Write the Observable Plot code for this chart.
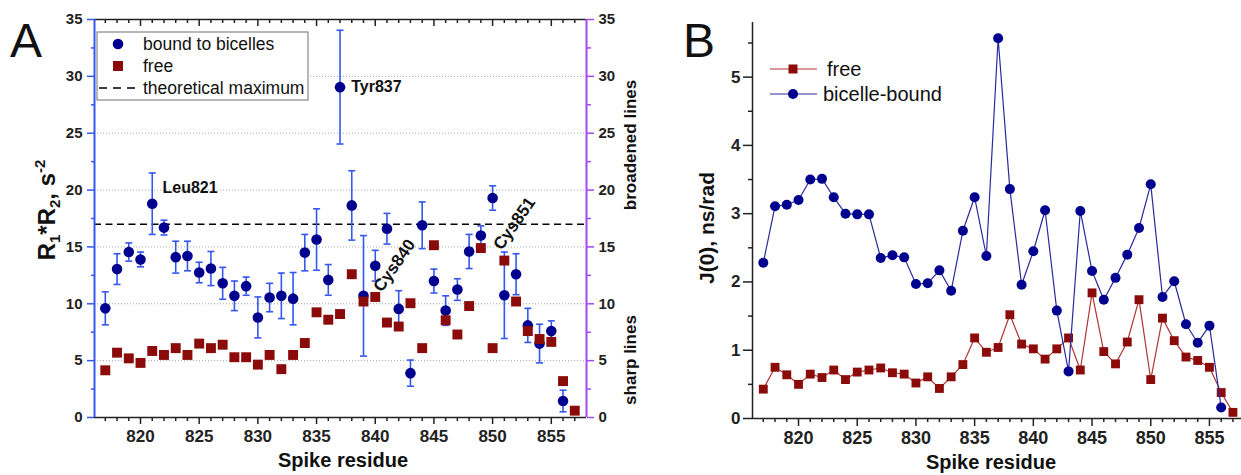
<!DOCTYPE html>
<html><head><meta charset="utf-8">
<script src="https://cdn.jsdelivr.net/npm/d3@7"></script>
<script src="https://cdn.jsdelivr.net/npm/@observablehq/plot@0.6"></script>
<style>
body{margin:0;background:#fff;font-family:"Liberation Sans",Arial,sans-serif;}
#wrap{position:relative;width:1241px;height:475px;overflow:hidden;background:#fff;}
#a{position:absolute;left:0;top:0;}
#b{position:absolute;left:660px;top:0;}
svg{overflow:visible;}
</style></head><body><div id="wrap"><div id="a"></div><div id="b"></div></div>
<script>
// ---------- data ----------
const residuesBound = [817,818,819,820,821,822,823,824,825,826,827,828,829,830,831,832,833,834,835,836,837,838,839,840,841,842,843,844,845,846,847,848,849,850,851,852,853,854,855,856];
const residuesFree  = [817,818,819,820,821,822,823,824,825,826,827,828,829,830,831,832,833,834,835,836,837,838,839,840,841,842,843,844,845,846,847,848,849,850,851,852,853,854,855,856,857];
const r1r2Bound = [9.6,13.05,14.55,13.9,18.8,16.7,14.1,14.2,12.75,13.1,11.8,10.7,11.55,8.8,10.55,10.7,10.45,14.5,15.65,12.1,29.05,18.65,10.7,13.35,16.6,9.55,3.9,16.9,12.0,9.4,11.25,14.6,16.0,19.3,10.75,12.6,8.1,6.5,7.6,1.45];
const r1r2BoundErr = [1.45,1.35,0.8,0.65,2.7,0.65,1.4,1.3,0.9,1.5,1.4,1.3,0.8,1.8,1.25,2.0,2.3,1.6,2.7,1.35,5.0,3.05,5.3,1.35,1.35,1.6,1.15,2.05,1.05,1.3,0.95,1.5,0.85,1.07,3.8,1.8,1.5,1.7,0.9,0.95];
const r1r2Free = [4.15,5.7,5.2,4.8,5.85,5.5,6.1,5.5,6.5,6.1,6.4,5.3,5.3,4.65,5.5,4.25,5.5,6.55,9.25,8.6,9.1,12.6,10.2,10.6,8.35,8.0,10.05,6.1,15.15,8.55,7.3,9.8,14.9,6.1,13.8,10.2,7.6,6.9,6.65,3.2,0.6];
const theoreticalMax = 17;
const j0Bound = [2.28,3.11,3.13,3.2,3.5,3.51,3.24,3.0,2.99,2.99,2.35,2.39,2.36,1.97,1.98,2.17,1.87,2.75,3.24,2.38,5.57,3.36,1.96,2.45,3.05,1.58,0.69,3.04,2.16,1.74,2.06,2.4,2.79,3.43,1.78,2.01,1.38,1.11,1.36,0.16];
const j0Free = [0.43,0.75,0.64,0.5,0.65,0.6,0.71,0.57,0.68,0.71,0.74,0.67,0.65,0.52,0.61,0.44,0.61,0.79,1.18,0.97,1.04,1.52,1.09,1.02,0.87,1.02,1.18,0.71,1.84,0.98,0.8,1.12,1.74,0.57,1.47,1.14,0.9,0.85,0.75,0.38,0.09];
const labelsFlat = [
  {label:"Leu821", r:821.87, v:20.23},
  {label:"Tyr837", r:837.95, v:29.05}
];
const labelsRotated = [
  {label:"Cys840", r:841.64, v:13.37},
  {label:"Cys851", r:851.86, v:17.06}
];
const xMajor = [820,825,830,835,840,845,850,855];
const yMajorA = [0,5,10,15,20,25,30,35];
const yMinorA = [2.5,7.5,12.5,17.5,22.5,27.5,32.5];
const gridA = [5,10,15,20,25,30];
const yMajorB = [0,1,2,3,4,5];
const yMinorB = [0.5,1.5,2.5,3.5,4.5,5.5];

// ---------- styles ----------
const navy = "#00008f", darkred = "#8b0a0a", errBlue = "#3557f0", purple = "#a447f5";
const font = "Liberation Sans, Arial, sans-serif";

const boundA = residuesBound.map((r,i)=>({r, v:r1r2Bound[i], lo:r1r2Bound[i]-r1r2BoundErr[i], hi:r1r2Bound[i]+r1r2BoundErr[i]}));
const freeA = residuesFree.map((r,i)=>({r, v:r1r2Free[i]}));
const boundB = residuesBound.map((r,i)=>({r, v:j0Bound[i]}));
const freeB = residuesFree.map((r,i)=>({r, v:j0Free[i]}));
const xMinor = residuesFree.filter(r => !xMajor.includes(r));

const capSymbol = {draw(ctx){ ctx.moveTo(-3.5,0); ctx.lineTo(3.5,0); }};

function ticks(k, data, anchor, size, color, extra={}) {
  return Plot["axis"+k](data, {anchor, tickSize:size, stroke:color, strokeWidth:1.5, fill:"none", label:null, tickFormat:()=>"", ...extra});
}
function labels(k, data, anchor, offset, fontSize) {
  return Plot["axis"+k](data, {anchor, tickSize:0, tickPadding:offset, stroke:"none", fill:"#222", label:null, fontSize, fontWeight:"bold", tickFormat:d=>String(d)});
}

const xDomA = [816.08, 858];
const hA = 475, mTopA = 19, mBotA = 58, innerA = hA - mTopA - mBotA;
const A = Plot.plot({
  width: 660, height: hA, marginLeft: 94, marginRight: 74, marginTop: mTopA, marginBottom: mBotA,
  x: {domain: xDomA, axis: null},
  y: {domain: [0,35], axis: null},
  style: {fontFamily: font, background: "transparent", overflow: "visible"},
  marks: [
    Plot.gridY(gridA, {stroke:"#9a9a9a", strokeOpacity:0.9, strokeDasharray:"1,2"}),
    Plot.ruleY([theoreticalMax], {stroke:"#000", strokeWidth:1.6, strokeDasharray:"7,4.5"}),
    // frame
    Plot.ruleY([35], {stroke:"#222", strokeWidth:1.5}),
    Plot.ruleY([0], {stroke:"#222", strokeWidth:1.5}),
    Plot.ruleX([xDomA[0]], {stroke:errBlue, strokeWidth:2}),
    Plot.ruleX([xDomA[1]], {stroke:purple, strokeWidth:2}),
    // ticks
    ticks("X", xMajor, "bottom", 7, "#222"),
    ticks("X", xMinor, "bottom", 4, "#222"),
    Plot.ruleX(xMajor, {x:d=>d, insetBottom: innerA - 7, stroke:"#222", strokeWidth:1.5}),
    Plot.ruleX(xMinor, {x:d=>d, insetBottom: innerA - 4, stroke:"#222", strokeWidth:1.5}),
    labels("X", xMajor, "bottom", 12, 17),
    ticks("Y", yMajorA, "left", 7, errBlue),
    ticks("Y", yMinorA, "left", 3, errBlue),
    labels("Y", yMajorA, "left", 12, 15),
    ticks("Y", yMajorA, "right", 7, purple),
    ticks("Y", yMinorA, "right", 4, purple),
    labels("Y", yMajorA, "right", 12, 15),
    // error bars
    Plot.ruleX(boundA, {x:"r", y1:"lo", y2:"hi", stroke:errBlue, strokeWidth:1.6}),
    Plot.dot(boundA, {x:"r", y:"lo", symbol:capSymbol, stroke:errBlue, strokeWidth:1.6, r:3}),
    Plot.dot(boundA, {x:"r", y:"hi", symbol:capSymbol, stroke:errBlue, strokeWidth:1.6, r:3}),
    Plot.dot(boundA, {x:"r", y:"v", r:5.3, fill:navy, stroke:"none"}),
    Plot.dot(freeA, {x:"r", y:"v", r:5.6, symbol:"square", fill:darkred, stroke:"none"}),
    Plot.text(labelsFlat, {x:"r", y:"v", text:"label", textAnchor:"start", fontSize:16, fontWeight:"bold", fill:"#111"}),
    Plot.text(labelsRotated, {x:"r", y:"v", text:"label", rotate:-55, textAnchor:"middle", fontSize:17, fontWeight:"bold", fill:"#111"})
  ]
});
document.getElementById("a").appendChild(A);

const xDomB = [816.08, 857.73];
const B = Plot.plot({
  width: 581, height: 475, marginLeft: 92, marginRight: 0, marginTop: 22, marginBottom: 57,
  x: {domain: xDomB, axis: null},
  y: {domain: [0,5.8], axis: null},
  style: {fontFamily: font, background: "transparent", overflow: "visible"},
  marks: [
    Plot.ruleX([xDomB[0]], {stroke:"#222", strokeWidth:1.5}),
    Plot.ruleY([0], {stroke:"#222", strokeWidth:1.5}),
    ticks("X", xMajor, "bottom", 8, "#222"),
    ticks("X", xMinor, "bottom", 4, "#222"),
    labels("X", xMajor, "bottom", 13, 18),
    ticks("Y", yMajorB, "left", 9, "#222"),
    ticks("Y", yMinorB, "left", 4, "#222"),
    labels("Y", yMajorB, "left", 12, 17),
    Plot.line(freeB, {x:"r", y:"v", stroke:"#b03535", strokeWidth:1.2}),
    Plot.dot(freeB, {x:"r", y:"v", r:5, symbol:"square", fill:darkred, stroke:"none"}),
    Plot.line(boundB, {x:"r", y:"v", stroke:"#2a2aa0", strokeWidth:1.2}),
    Plot.dot(boundB, {x:"r", y:"v", r:5, fill:navy, stroke:"none"})
  ]
});
document.getElementById("b").appendChild(B);

// ---------- decorations (titles, legends) ----------
const sA = d3.select(A), sB = d3.select(B);
function txt(sel, x, y, s, opts={}) {
  const t = sel.append("text").attr("x", x).attr("y", y).attr("font-family", font)
    .attr("font-size", opts.size || 16).attr("font-weight", opts.weight || "normal")
    .attr("fill", opts.fill || "#111").attr("text-anchor", opts.anchor || "start");
  if (opts.baseline) t.attr("dominant-baseline", opts.baseline);
  if (opts.transform) t.attr("transform", opts.transform);
  t.text(s);
  return t;
}
txt(sA, 10, 57, "A", {size:48});
txt(sB, 23, 57, "B", {size:48});
txt(sA, 343, 467, "Spike residue", {size:20, weight:"bold", anchor:"middle"});
txt(sB, 331, 469, "Spike residue", {size:20, weight:"bold", anchor:"middle"});
{
  const t = sA.append("text").attr("transform","translate(55,210) rotate(-90)")
    .attr("text-anchor","middle").attr("font-family",font).attr("font-size",24).attr("font-weight","bold").attr("fill","#111");
  t.append("tspan").text("R");
  t.append("tspan").attr("dy",5).attr("font-size",15).text("1");
  t.append("tspan").attr("dy",-5).text("*R");
  t.append("tspan").attr("dy",5).attr("font-size",15).text("2");
  t.append("tspan").attr("dy",-5).text(", s");
  t.append("tspan").attr("dy",-10).attr("font-size",15).text("-2");
}
txt(sA, 0, 0, "broadened lines", {size:17, weight:"bold", anchor:"middle", transform:"translate(636,145) rotate(-90)"});
txt(sA, 0, 0, "sharp lines", {size:17, weight:"bold", anchor:"middle", transform:"translate(636,360) rotate(-90)"});
txt(sB, 0, 0, "J(0), ns/rad", {size:21, weight:"bold", anchor:"middle", transform:"translate(54,228) rotate(-90)"});
{
  const g = sA.append("g");
  g.append("rect").attr("x",97).attr("y",32).attr("width",211).attr("height",68).attr("fill","#fff").attr("stroke","#888").attr("stroke-width",1.2);
  g.append("circle").attr("cx",118).attr("cy",44).attr("r",5.3).attr("fill",navy);
  g.append("rect").attr("x",113).attr("y",61).attr("width",10).attr("height",10).attr("fill",darkred);
  g.append("line").attr("x1",99).attr("x2",137).attr("y1",88).attr("y2",88).attr("stroke","#000").attr("stroke-width",1.5).attr("stroke-dasharray","8,6");
  txt(g, 143, 44, "bound to bicelles", {size:17.5, baseline:"central"});
  txt(g, 143, 66, "free", {size:17.5, baseline:"central"});
  txt(g, 143, 88, "theoretical maximum", {size:17.5, baseline:"central"});
}
{
  const g = sB.append("g");
  g.append("line").attr("x1",110).attr("x2",157).attr("y1",69).attr("y2",69).attr("stroke","#b03535").attr("stroke-width",1.2);
  g.append("rect").attr("x",128.5).attr("y",64.5).attr("width",9).attr("height",9).attr("fill",darkred);
  g.append("line").attr("x1",110).attr("x2",157).attr("y1",94).attr("y2",94).attr("stroke","#2a2aa0").attr("stroke-width",1.2);
  g.append("circle").attr("cx",133).attr("cy",94).attr("r",5).attr("fill",navy);
  txt(g, 167, 69, "free", {size:20, baseline:"central"});
  txt(g, 163, 94, "bicelle-bound", {size:20, baseline:"central"});
}
</script></body></html>
